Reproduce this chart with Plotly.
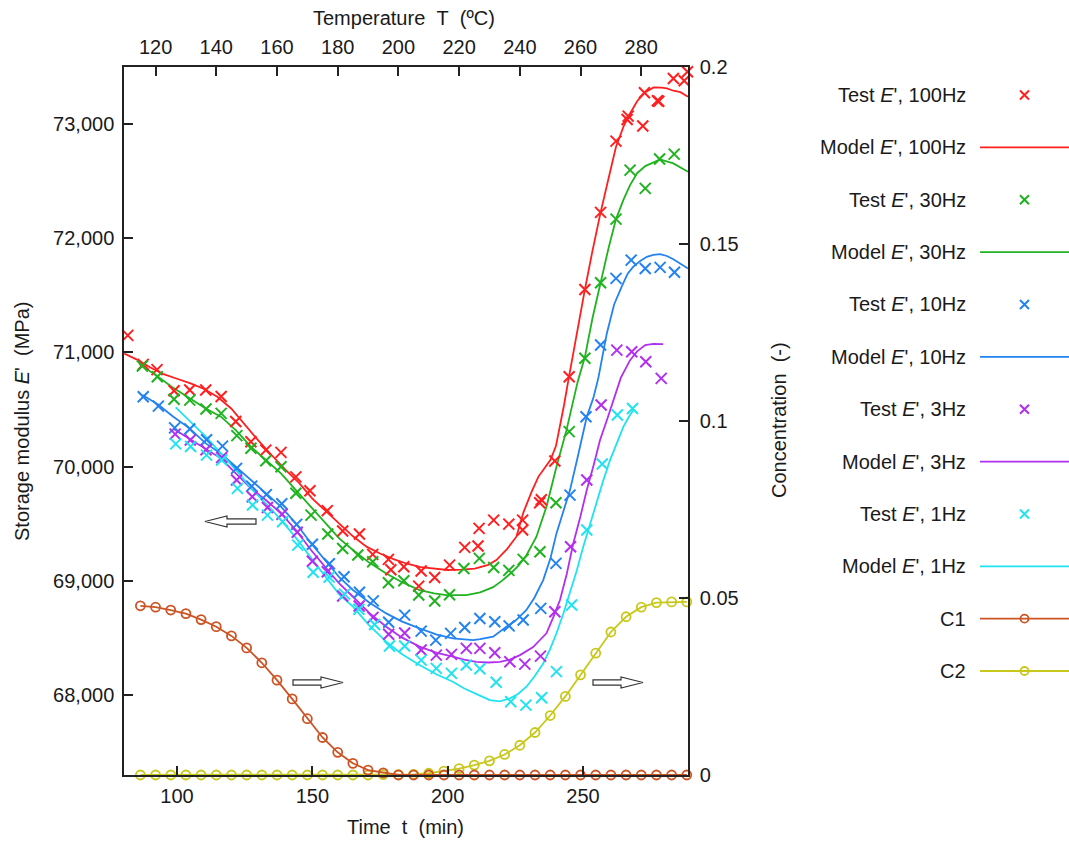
import plotly.graph_objects as go

W, H = 1069, 842
FONT = "Liberation Sans, Arial, Helvetica, sans-serif"

# ---- storage modulus, test points (time min, E' MPa) ----
red_test_t = [81.8, 87.5, 92.6, 98.9, 104.7, 110.6, 116.3, 121.7, 127.3, 132.8, 138.4, 143.9,
              149.1, 155.5, 161.2, 167.4, 172.3, 178.1, 179.0, 183.8, 189.3, 190.2, 195.2, 200.7,
              206.3, 211.2, 211.6, 217.0, 222.6, 227.7, 227.7, 234.0, 234.6, 239.6, 244.9, 250.7,
              256.5, 262.2, 266.3, 266.7, 272.1, 272.7, 277.5, 278.0, 283.4, 287.4, 288.6]
red_test_e = [71150, 70896, 70850, 70665, 70671, 70671, 70615, 70396, 70218, 70145, 70125, 69911,
              69789, 69615, 69436, 69410, 69232, 69188, 69097, 69123, 68954, 69086, 69030, 69138,
              69293, 69305, 69460, 69532, 69497, 69532, 69445, 69684, 69710, 70049, 70787, 71552,
              72227, 72851, 73040, 73070, 72983, 73274, 73204, 73200, 73400, 73379, 73458]

green_test_t = [87.2, 92.7, 98.9, 104.7, 110.7, 116.3, 122.1, 127.3, 132.8, 138.4, 143.9, 149.5,
                155.7, 161.2, 166.8, 172.3, 178.1, 183.8, 189.3, 195.2, 200.7, 206.0, 211.7, 217.0,
                222.6, 227.9, 234.1, 240.0, 244.9, 250.7, 256.5, 262.2, 267.4, 273.0, 278.3, 283.7,
                289.3]
green_test_e = [70881, 70787, 70590, 70583, 70505, 70467, 70272, 70161, 70052, 70000, 69767, 69576,
                69410, 69284, 69226, 69168, 68984, 69001, 68876, 68823, 68878, 69109, 69197, 69117,
                69092, 69188, 69255, 69684, 70307, 70949, 71611, 72168, 72597, 72437, 72694, 72737,
                72650]

blue_test_t = [87.5, 93.1, 99.1, 104.7, 110.9, 116.8, 122.0, 127.6, 133.0, 138.7, 144.2, 150.0,
               156.3, 161.7, 167.4, 172.5, 178.2, 184.1, 190.2, 195.6, 201.1, 206.3, 211.9, 217.4,
               222.7, 227.9, 234.4, 240.0, 245.2, 251.1, 256.5, 262.2, 267.8, 273.0, 278.5, 283.8]
blue_test_e = [70613, 70530, 70340, 70330, 70236, 70180, 69985, 69830, 69755, 69675, 69495, 69320,
               69150, 69036, 68900, 68825, 68638, 68700, 68560, 68481, 68540, 68592, 68671, 68642,
               68606, 68657, 68759, 69153, 69751, 70437, 71065, 71649, 71809, 71736, 71745, 71702]

magenta_test_t = [99.3, 104.9, 110.7, 116.5, 122.0, 127.8, 133.4, 138.8, 144.4, 150.0, 155.5, 161.2,
                  167.3, 172.4, 178.2, 184.1, 190.2, 195.8, 201.4, 206.9, 211.9, 217.4, 223.0, 228.5,
                  234.3, 239.6, 245.4, 251.4, 256.7, 262.5, 268.0, 273.2, 278.9]
magenta_test_e = [70285, 70233, 70148, 70080, 69883, 69737, 69642, 69584, 69426, 69172, 69080, 68867,
                  68780, 68680, 68533, 68543, 68394, 68350, 68356, 68409, 68409, 68371, 68292, 68271,
                  68341, 68730, 69299, 69883, 70540, 71021, 71006, 70919, 70773]

cyan_test_t = [99.5, 105.0, 110.9, 116.5, 122.3, 127.9, 133.4, 139.0, 144.6, 150.3, 156.2, 161.9,
               167.2, 173.0, 178.5, 184.1, 190.2, 195.8, 201.4, 206.9, 211.9, 217.9, 223.3, 228.9,
               234.7, 240.2, 245.8, 251.4, 257.1, 262.7, 268.3]
cyan_test_e = [70200, 70176, 70101, 70058, 69810, 69664, 69576, 69518, 69313, 69075, 69033, 68884,
               68751, 68618, 68430, 68430, 68306, 68234, 68190, 68263, 68230, 68112, 67942, 67912,
               67977, 68205, 68788, 69445, 70023, 70452, 70510]

# ---- storage modulus, model curves ----
red_model_t = [80.5, 85, 90, 95, 100, 105, 110, 115, 120, 125, 130, 135, 140, 145, 150, 155, 160,
               165, 170, 175, 180, 185, 190, 195, 200, 205, 210, 215, 218, 222, 225.4, 228, 231,
               233.5, 236, 238, 240, 241.5, 243, 244.6, 247.5, 250.7, 253.5, 256.5, 259.5, 262.2,
               265, 267.4, 270, 272.7, 276.1, 279, 281, 283.4, 286, 288.8]
red_model_e = [70990, 70940, 70870, 70810, 70770, 70730, 70680, 70610, 70510, 70370, 70230, 70100,
               69975, 69860, 69720, 69610, 69500, 69390, 69300, 69240, 69190, 69150, 69120, 69105,
               69095, 69098, 69108, 69140, 69182, 69280, 69387, 69600, 69780, 69911, 69990, 70060,
               70180, 70349, 70540, 70758, 71150, 71552, 71890, 72227, 72530, 72802, 72980, 73093,
               73200, 73274, 73321, 73320, 73312, 73292, 73280, 73240]

green_model_t = [86, 92.7, 98, 104.4, 110.6, 116.2, 121.7, 127.3, 132.8, 138.4, 143.9, 149.5, 155.7,
                 160, 165, 171, 177.3, 183, 189.6, 195, 199.5, 206.9, 212, 216.8, 220, 223, 226, 229,
                 232.8, 236.5, 240.2, 243.9, 248, 250.7, 253.5, 256.5, 259.5, 262.2, 265, 267.4, 270,
                 273, 278.5, 283.4, 288.8]
green_model_e = [70900, 70793, 70700, 70605, 70510, 70438, 70320, 70175, 70058, 69941, 69795, 69649,
                 69480, 69370, 69270, 69160, 69065, 68990, 68919, 68890, 68876, 68876, 68900, 68945,
                 69000, 69060, 69130, 69220, 69387, 69650, 70000, 70320, 70740, 70960, 71300, 71611,
                 71920, 72168, 72340, 72466, 72570, 72632, 72691, 72656, 72583]

blue_model_t = [87.2, 93, 98.5, 104.4, 110.6, 116.2, 121.7, 127.3, 132.8, 138.4, 143.9, 149.5, 155.7,
                160, 165, 171, 177.3, 183, 189.6, 196, 201.9, 209.4, 212, 216.8, 221.7, 225, 229.1,
                232, 235.3, 238, 240.2, 242.5, 245.2, 248, 251.4, 253.8, 255.7, 258.8, 261.5, 264.3,
                266.5, 268.6, 271, 273.6, 276, 278.5, 281, 283.4, 286, 288.8]
blue_model_e = [70627, 70545, 70440, 70340, 70204, 70116, 70000, 69883, 69767, 69650, 69504, 69329,
                69153, 69030, 68920, 68810, 68715, 68645, 68584, 68530, 68497, 68481, 68490, 68511,
                68599, 68650, 68745, 68850, 69007, 69200, 69416, 69600, 69795, 70080, 70437, 70600,
                70780, 71167, 71420, 71576, 71690, 71751, 71800, 71838, 71855, 71862, 71845, 71816,
                71780, 71736]

magenta_model_t = [98.9, 104.4, 110.6, 116.2, 121.7, 127.3, 132.8, 138.4, 143.9, 149.5, 155.7, 160,
                   165, 171, 177.3, 183, 189.6, 196, 201.9, 206, 210.6, 215, 219.3, 223, 226.7, 229,
                   231.6, 234, 236.5, 239, 241.5, 244, 246.4, 249, 251.4, 254, 256.3, 259, 261.5, 264,
                   267.4, 270, 273, 276, 279.6]
magenta_model_e = [70327, 70248, 70161, 70073, 69942, 69810, 69708, 69592, 69445, 69270, 69094, 68975,
                   68861, 68720, 68599, 68505, 68424, 68370, 68336, 68310, 68290, 68285, 68290, 68310,
                   68350, 68385, 68420, 68480, 68541, 68680, 68832, 69060, 69328, 69560, 69795, 70020,
                   70233, 70420, 70600, 70780, 70933, 71010, 71065, 71075, 71074]

cyan_model_t = [99.5, 104.4, 110.6, 116.8, 122.3, 127.9, 133.4, 139, 144.6, 150.1, 156.3, 160, 165,
                171, 177.3, 183, 189.6, 196, 201.9, 206, 211.9, 215.6, 219.3, 223, 226, 229.1, 232,
                235.3, 237.8, 240.2, 242.7, 245.2, 247.7, 250.1, 252.6, 255.1, 257.5, 260, 262.5,
                264.9, 266.8, 268.6]
cyan_model_e = [70520, 70408, 70263, 70101, 69956, 69795, 69664, 69518, 69357, 69182, 68992, 68880,
                68774, 68610, 68468, 68360, 68263, 68180, 68117, 68060, 67995, 67956, 67945, 67971,
                68010, 68073, 68160, 68277, 68400, 68541, 68710, 68890, 69090, 69299, 69500, 69707,
                69880, 70058, 70210, 70349, 70430, 70496]

# ---- concentrations vs temperature (degC) ----
temp_c = [115, 120, 125, 130, 135, 140, 145, 150, 155, 160, 165, 170, 175, 180, 185, 190, 195, 200,
          205, 210, 215, 220, 225, 230, 235, 240, 245, 250, 255, 260, 265, 270, 275, 280, 285, 290, 295]
c1 = [0.0478, 0.0474, 0.0466, 0.0456, 0.0439, 0.0419, 0.0393, 0.0359, 0.0317, 0.0268, 0.0215, 0.0159,
      0.0106, 0.0064, 0.0033, 0.0014, 0.0006, 0, 0, 0, 0, 0, 0, 0, 0, 0, 0, 0, 0, 0, 0, 0, 0, 0, 0, 0, 0]
c2 = [0, 0, 0, 0, 0, 0, 0, 0, 0, 0, 0, 0, 0, 0, 0, 0, 0.0001, 0.0001, 0.0002, 0.0005, 0.0011, 0.0018,
      0.0028, 0.0040, 0.0058, 0.0084, 0.0120, 0.0168, 0.0222, 0.0283, 0.0344, 0.0404, 0.0447, 0.0474,
      0.0487, 0.0489, 0.0489]

freq_labels = ["100Hz", "30Hz", "10Hz", "3Hz", "1Hz"]
colors = ["#ff1f1f", "#1fb31f", "#2383f0", "#b22ff0", "#1fe3f0"]
c1_color, c2_color = "#cc5424", "#c8c81c"

tests = [(red_test_t, red_test_e), (green_test_t, green_test_e), (blue_test_t, blue_test_e),
         (magenta_test_t, magenta_test_e), (cyan_test_t, cyan_test_e)]
models = [(red_model_t, red_model_e), (green_model_t, green_model_e), (blue_model_t, blue_model_e),
          (magenta_model_t, magenta_model_e), (cyan_model_t, cyan_model_e)]


def px_x(px):
    return px / W


def px_y(py):
    return 1 - py / H


fig = go.Figure()

for (mt, me), col in zip(models, colors):
    fig.add_trace(go.Scatter(x=mt, y=me, mode="lines", line=dict(color=col, width=1.8),
                             xaxis="x", yaxis="y", hoverinfo="skip"))
for (tt, te), col in zip(tests, colors):
    fig.add_trace(go.Scatter(x=tt, y=te, mode="markers", cliponaxis=False,
                             marker=dict(symbol="x-thin", size=11, line=dict(color=col, width=2)),
                             xaxis="x", yaxis="y"))

for cc, col in [(c2, c2_color), (c1, c1_color)]:
    fig.add_trace(go.Scatter(x=temp_c, y=cc, mode="lines+markers", cliponaxis=False,
                             line=dict(color=col, width=1.8),
                             marker=dict(symbol="circle-open", size=9, color=col, line=dict(width=1.8)),
                             xaxis="x2", yaxis="y2"))

# ---- legend (gnuplot style: text on the left, sample on the right) ----
legend_rows = []
for lab, col in zip(freq_labels, colors):
    legend_rows.append(("Test <i>E</i>', " + lab, col, "test"))
    legend_rows.append(("Model <i>E</i>', " + lab, col, "model"))
legend_rows.append(("C1", c1_color, "conc"))
legend_rows.append(("C2", c2_color, "conc"))

annotations = []
for i, (txt, col, kind) in enumerate(legend_rows):
    if kind in ("model", "conc"):
        fig.add_trace(go.Scatter(x=[0, 1], y=[i, i], mode="lines", line=dict(color=col, width=1.8),
                                 xaxis="x3", yaxis="y3", hoverinfo="skip"))
    if kind == "test":
        fig.add_trace(go.Scatter(x=[0.5], y=[i], mode="markers", xaxis="x3", yaxis="y3",
                                 marker=dict(symbol="x-thin", size=9, line=dict(color=col, width=2))))
    if kind == "conc":
        fig.add_trace(go.Scatter(x=[0.5], y=[i], mode="markers", xaxis="x3", yaxis="y3",
                                 marker=dict(symbol="circle-open", size=8, color=col, line=dict(width=1.8))))
    annotations.append(dict(text=txt, x=px_x(968), y=i, xref="paper", yref="y3", xanchor="right",
                            yanchor="middle", showarrow=False, font=dict(size=20, color="#1a1a1a")))

nb = "\u00a0"
title_font = dict(size=20, color="#1a1a1a")
annotations += [
    dict(text=f"Temperature{nb}{nb}T{nb}{nb}(ºC)", x=px_x(404), y=px_y(18), xref="paper", yref="paper",
         xanchor="center", yanchor="middle", showarrow=False, font=title_font),
    dict(text=f"Time{nb}{nb}t{nb}{nb}(min)", x=px_x(405), y=px_y(827), xref="paper", yref="paper",
         xanchor="center", yanchor="middle", showarrow=False, font=title_font),
    dict(text=f"Storage modulus <i>E</i>'{nb}{nb}(MPa)", x=px_x(22), y=px_y(422), xref="paper",
         yref="paper", xanchor="center", yanchor="middle", textangle=-90, showarrow=False,
         font=title_font),
    dict(text=f"Concentration{nb}{nb}(-)", x=px_x(779), y=px_y(420), xref="paper", yref="paper",
         xanchor="center", yanchor="middle", textangle=-90, showarrow=False, font=title_font),
]


def hollow_arrow(tail, tip, yc):
    d = 1 if tip > tail else -1
    head = 22
    hh, sh = 5.5, 2.7
    base = tip - d * head
    pts = [(tail, yc - sh), (base, yc - sh), (base, yc - hh), (tip, yc),
           (base, yc + hh), (base, yc + sh), (tail, yc + sh)]
    path = "M " + " L ".join(f"{px_x(x):.5f},{px_y(y):.5f}" for x, y in pts) + " Z"
    return dict(type="path", path=path, xref="paper", yref="paper",
                line=dict(color="#333333", width=1.2), fillcolor="white")


shapes = [hollow_arrow(256, 205, 521.5), hollow_arrow(293, 343, 682.5), hollow_arrow(593, 643, 682.5)]

axis_common = dict(showline=True, linecolor="#222222", linewidth=1.5, ticks="inside", ticklen=9,
                   tickwidth=1.5, tickcolor="#222222", showgrid=False, zeroline=False,
                   tickfont=dict(size=20, color="#1a1a1a"), fixedrange=True, automargin=False)

x_dom = [px_x(124), px_x(688)]
y_dom = [px_y(775), px_y(67)]

fig.update_layout(
    width=W, height=H,
    margin=dict(l=0, r=0, t=0, b=0, pad=0, autoexpand=False),
    paper_bgcolor="white", plot_bgcolor="white",
    font=dict(family=FONT, size=20, color="#1a1a1a"),
    showlegend=False,
    xaxis=dict(domain=x_dom, range=[80.4, 288.8], tickvals=[100, 150, 200, 250], anchor="y",
               ticklabelstandoff=2, **axis_common),
    xaxis2=dict(overlaying="x", side="top", anchor="y", range=[109.6, 295.4],
                tickvals=[120, 140, 160, 180, 200, 220, 240, 260, 280], ticklabelstandoff=3,
                **axis_common),
    yaxis=dict(domain=y_dom, range=[67300, 73500], tickvals=[68000, 69000, 70000, 71000, 72000, 73000],
               tickformat=",d", anchor="x", ticklabelstandoff=4, **axis_common),
    yaxis2=dict(overlaying="y", side="right", anchor="x", range=[0, 0.2],
                tickvals=[0, 0.05, 0.1, 0.15, 0.2], ticklabelstandoff=6, **axis_common),
    xaxis3=dict(domain=[px_x(980), 1], range=[0, 1], visible=False, anchor="y3", fixedrange=True),
    yaxis3=dict(domain=[px_y(697.2), px_y(68.8)], range=[11.5, -0.5], visible=False, anchor="x3",
                fixedrange=True),
    annotations=annotations,
    shapes=shapes,
)

# the page body has a default 8px margin; drop it so the figure fills the window
fig.write_html("out.html", config={"displayModeBar": False},
               post_script="document.body.style.margin = '0';")
